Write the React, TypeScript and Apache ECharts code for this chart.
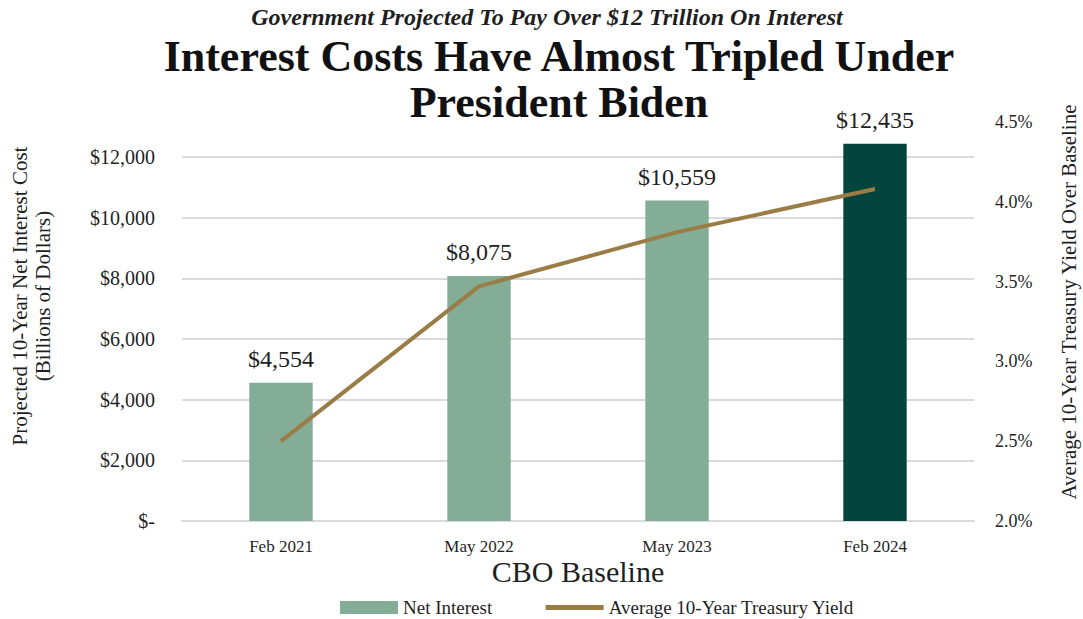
import React, { useEffect, useRef } from "react";
import * as echarts from "echarts";

const categories = ["Feb 2021", "May 2022", "May 2023", "Feb 2024"];
const netInterest = [4554, 8075, 10559, 12435];
const treasuryYield = [2.5, 3.47, 3.81, 4.08];
const seriesNames = ["Net Interest", "Average 10-Year Treasury Yield"];
const subtitleText = "Government Projected To Pay Over $12 Trillion On Interest";
const titleText = "Interest Costs Have Almost Tripled Under\nPresident Biden";
const leftAxisTitle = ["Projected 10-Year Net Interest Cost", "(Billions of Dollars)"];
const rightAxisTitle = "Average 10-Year Treasury Yield Over Baseline";
const xAxisTitle = "CBO Baseline";

const FONT = "'Liberation Serif', 'Times New Roman', serif";
const TEXT = "#1f1f1f";
const LIGHT = "#83AD96";
const DARK = "#03443F";
const GOLD = "#9A7D45";
const GRID = "#DADADA";

const fmtMoney = (v: number) => (v === 0 ? "$-" : "$" + v.toLocaleString("en-US"));

export default function App() {
  const ref = useRef<HTMLDivElement>(null);
  useEffect(() => {
    if (!ref.current) return;
    const chart = echarts.init(ref.current, undefined, { renderer: "svg" });
    chart.setOption({
      animation: false,
      backgroundColor: "#ffffff",
      textStyle: { fontFamily: FONT, color: TEXT },
      title: [
        {
          text: subtitleText,
          left: 542,
          textAlign: "center",
          top: 0,
          textStyle: { fontFamily: FONT, fontSize: 24, fontWeight: "bold", fontStyle: "italic", color: TEXT },
        },
        {
          text: titleText,
          left: 554,
          textAlign: "center",
          top: 28,
          textStyle: { fontFamily: FONT, fontSize: 44, lineHeight: 46, fontWeight: "bold", color: "#111" },
        },
      ],
      graphic: [
        {
          type: "text",
          x: 20,
          y: 296,
          rotation: Math.PI / 2,
          style: { text: leftAxisTitle[0], font: `21px ${FONT}`, fill: TEXT, align: "center", verticalAlign: "middle" },
        },
        {
          type: "text",
          x: 43,
          y: 296,
          rotation: Math.PI / 2,
          style: { text: leftAxisTitle[1], font: `21px ${FONT}`, fill: TEXT, align: "center", verticalAlign: "middle" },
        },
        {
          type: "text",
          x: 1069,
          y: 302,
          rotation: Math.PI / 2,
          style: { text: rightAxisTitle, font: `21px ${FONT}`, fill: TEXT, align: "center", verticalAlign: "middle" },
        },
      ],
      legend: {
        left: 340,
        top: 598,
        padding: 0,
        itemWidth: 58,
        itemHeight: 13,
        itemGap: 51,
        textStyle: { fontFamily: FONT, fontSize: 19, color: TEXT },
        data: [
          { name: seriesNames[0], icon: "rect" },
          {
            name: seriesNames[1],
            itemStyle: { color: "rgba(0,0,0,0)", borderColor: "rgba(0,0,0,0)", borderWidth: 0, opacity: 0 },
            lineStyle: { width: 5 },
          },
        ],
      },
      grid: { left: 182, right: 109, top: 122, bottom: 98, containLabel: false },
      xAxis: {
        type: "category",
        data: categories,
        axisLine: { lineStyle: { color: GRID, width: 2 } },
        axisTick: { show: false },
        axisLabel: { fontFamily: FONT, fontSize: 17, color: TEXT, margin: 17 },
        name: xAxisTitle,
        nameLocation: "middle",
        nameGap: 35,
        nameMoveOverlap: false,
        nameTextStyle: { fontFamily: FONT, fontSize: 30, color: TEXT },
      },
      yAxis: [
        {
          type: "value",
          min: 0,
          max: 13150,
          interval: 2000,
          axisLine: { show: false },
          axisTick: { show: false },
          axisLabel: {
            fontFamily: FONT,
            fontSize: 20,
            color: TEXT,
            margin: 27,
            showMaxLabel: false,
            formatter: (v: number) => (v % 2000 === 0 ? fmtMoney(v) : ""),
          },
          splitLine: { show: true, showMaxLine: false, lineStyle: { color: GRID, width: 2 } },
        },
        {
          type: "value",
          min: 2,
          max: 4.5,
          interval: 0.5,
          position: "right",
          axisLine: { show: false },
          axisTick: { show: false },
          splitLine: { show: false },
          axisLabel: {
            fontFamily: FONT,
            fontSize: 18,
            color: TEXT,
            margin: 21,
            formatter: (v: number) => v.toFixed(1) + "%",
          },
        },
      ],
      series: [
        {
          name: seriesNames[0],
          type: "bar",
          barWidth: "32%",
          itemStyle: { color: LIGHT },
          data: netInterest.map((v, i) =>
            i === netInterest.length - 1 ? { value: v, itemStyle: { color: DARK } } : v
          ),
          label: {
            show: true,
            position: "top",
            distance: 12,
            fontFamily: FONT,
            fontSize: 24,
            color: TEXT,
            formatter: (p: any) => fmtMoney(p.value),
          },
        },
        {
          name: seriesNames[1],
          type: "line",
          yAxisIndex: 1,
          data: treasuryYield,
          symbol: "none",
          lineStyle: { color: GOLD, width: 4 },
          itemStyle: { color: GOLD },
        },
      ],
    });
    return () => chart.dispose();
  }, []);
  return (
    <div
      ref={ref}
      style={{ position: "absolute", left: 0, top: 0, width: 1083, height: 619, background: "#fff" }}
    />
  );
}
